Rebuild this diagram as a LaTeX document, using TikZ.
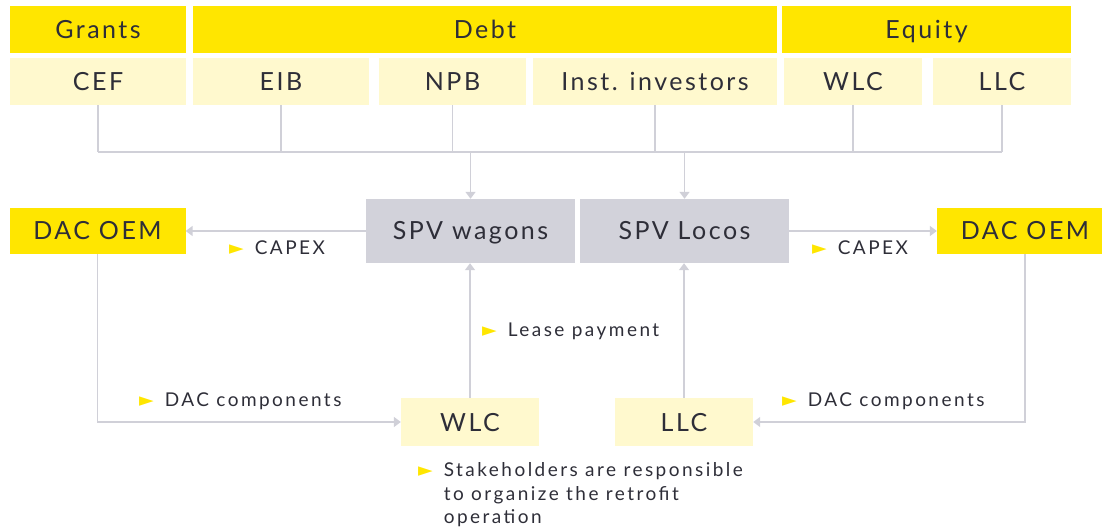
\documentclass[tikz,border=0pt]{standalone}
\usepackage{fontspec}
\setmainfont{Lato}
\newfontfamily\boxfont{Lato}[LetterSpace=10]
\newfontfamily\lblfont{Lato}[LetterSpace=13]
\newfontfamily\symfont{DejaVu Sans}
\usetikzlibrary{positioning, arrows.meta}
\definecolor{eyyellow}{RGB}{255,230,0}
\definecolor{eylight}{RGB}{255,249,206}
\definecolor{eygray}{RGB}{210,210,218}
\definecolor{eyline}{RGB}{208,208,216}
\definecolor{eytext}{RGB}{46,46,56}
\newcommand{\bul}{{\color{eyyellow}\symfont\char"25BA}\hspace{11pt}}

\begin{document}
\begin{tikzpicture}[
    x=1pt, y=-1pt,
    every node/.append style={text=eytext, inner sep=0pt},
    box/.style={rectangle, text height=18pt, text depth=0pt, font=\boxfont\fontsize{25}{30}\selectfont},
    hdr/.style={box, fill=eyyellow, minimum height=47},
    src/.style={box, fill=eylight, minimum height=47},
    spv/.style={box, fill=eygray, minimum width=209, minimum height=64},
    oem/.style={box, fill=eyyellow, minimum width=176, minimum height=46},
    lessee/.style={box, fill=eylight, minimum width=138, minimum height=48},
    link/.style={draw=eyline, line width=1.6pt},
    arrow/.style={link, -{Triangle[length=7pt, width=10pt]}},
    lbl/.style={anchor=base west, font=\lblfont\fontsize{19}{23.5}\selectfont}
]
\clip (0,0) rectangle (1102,529);

% Funding categories
\node[hdr, minimum width=176] (grants) at (98,29.5) {Grants};
\node[hdr, minimum width=584] (debt) at (485,29.5) {Debt};
\node[hdr, minimum width=289] (equity) at (926.5,29.5) {Equity};

% Funding sources
\foreach \name/\cx/\w/\txt in {cef/98/176/CEF, eib/281/176/EIB, npb/452.5/147/NPB,
    inst/655/244/Inst. investors, wlcsrc/853/138/WLC, llcsrc/1002/138/LLC} {
    \node[src, minimum width=\w] (\name) at (\cx,81.5) {\txt};
}

% SPVs, OEMs and lessees
\node[spv] (spvw) at (470.5,231) {SPV wagons};
\node[spv] (spvl) at (684.5,231) {SPV Locos};
\node[oem] (oemL) at (97.5,231) {DAC OEM};
\node[oem] (oemR) at (1025,231) {DAC OEM};
\node[lessee] (wlc) at (470,422) {WLC};
\node[lessee] (llc) at (684,422) {LLC};

% Collecting bus
\coordinate (bus) at (0,152);
\foreach \name in {cef, eib, npb, inst, wlcsrc, llcsrc} {
    \draw[link] (\name.south) -- (\name.south |- bus);
}
\draw[link] (cef.south |- bus) -- (llcsrc.south |- bus);
\draw[arrow] (spvw.north |- bus) -- (spvw.north);
\draw[arrow] (spvl.north |- bus) -- (spvl.north);

% Flows
\draw[arrow] (spvw) -- (oemL);
\draw[arrow] (spvl) -- (oemR);
\draw[arrow] (oemL.south) |- (wlc);
\draw[arrow] (oemR.south) |- (llc);
\draw[arrow] (wlc.north) -- (wlc.north |- spvw.south);
\draw[arrow] (llc.north) -- (llc.north |- spvl.south);

% Labels
\node[lbl] (capexL) at (229,254.5) {\bul CAPEX};
\node[lbl] (capexR) at (812,254.5) {\bul CAPEX};
\node[lbl] (lease) at (482,336.5) {\bul Lease payment};
\node[lbl] (compL) at (139,406.5) {\bul DAC components};
\node[lbl] (compR) at (782,406.5) {\bul DAC components};
\node[lbl] (note) at (418,476.5) {\bul\begin{tabular}[t]{@{}l@{}}Stakeholders are responsible\\to organize the retrofit\\operation\end{tabular}};

\end{tikzpicture}
\end{document}
